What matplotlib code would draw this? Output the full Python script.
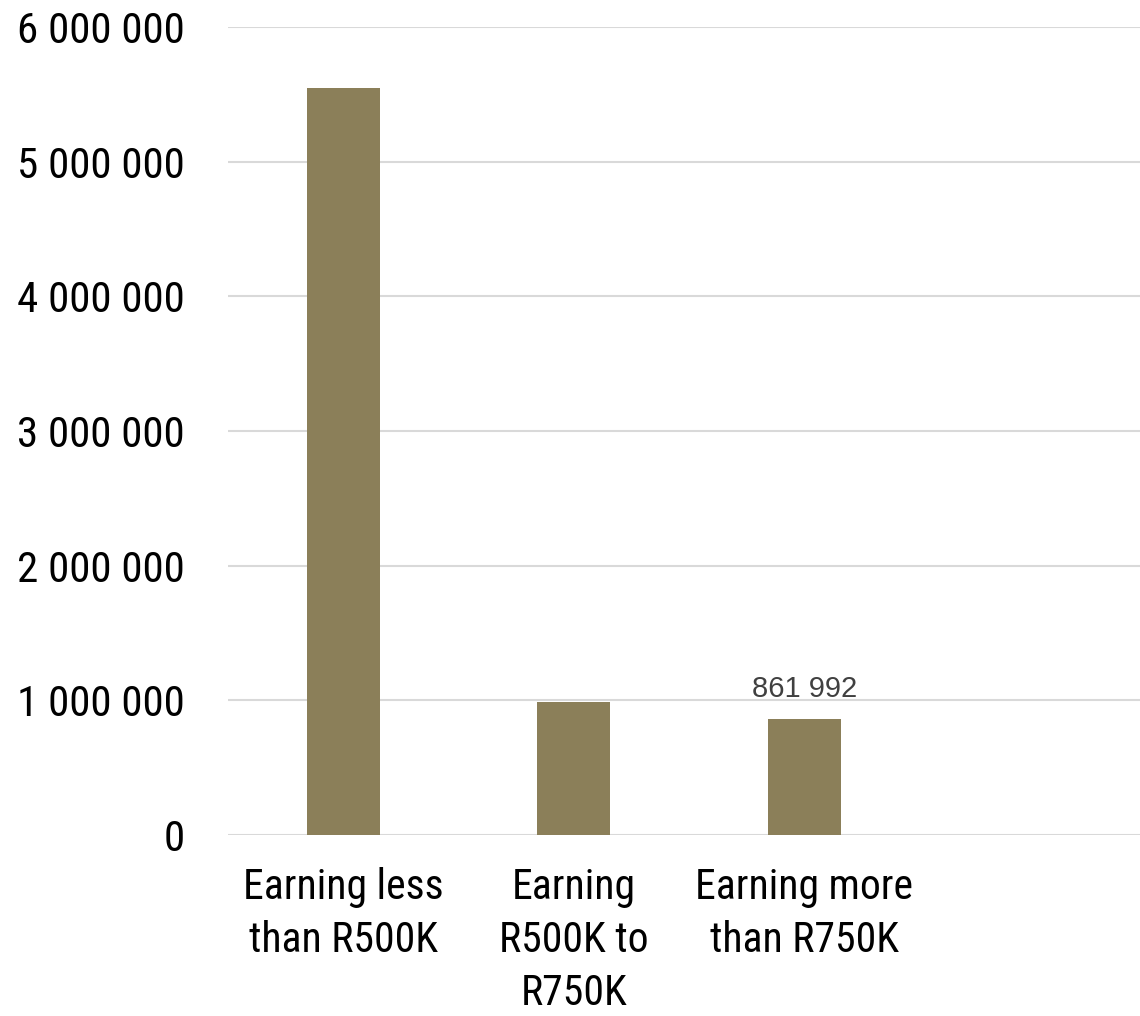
import matplotlib.pyplot as plt
from matplotlib import font_manager
from matplotlib.ticker import FuncFormatter

# données
categories = ["Earning less\nthan R500K", "Earning\nR500K to\nR750K", "Earning more\nthan R750K", ""]
valeurs = [5550000, 985000, 861992, 0]
etiquettes = {2: "861 992"}

# police étroite (style Arial Narrow) si dispo
noms = {f.name for f in font_manager.fontManager.ttflist}
police = "DejaVu Sans"
for p in ["Roboto Condensed", "Archivo Narrow", "Liberation Sans Narrow"]:
    if p in noms:
        police = p
        break

fig = plt.figure(figsize=(11.4, 10.16), dpi=100)
ax = fig.add_axes([228/1140, 1 - 835/1016, 922/1140, 808/1016])

x = list(range(len(categories)))
ax.bar(x[:3], valeurs[:3], width=0.317, color="#8b7f59", zorder=3)
for i, txt in etiquettes.items():
    ax.text(x[i], valeurs[i] + 115000, txt, ha="center", va="bottom",
            fontsize=21, color="#404040", family="Liberation Sans")

ax.set_xlim(-0.5, 3.5)
ax.set_ylim(0, 6000000)
ax.set_yticks(range(0, 6000001, 1000000))
ax.yaxis.set_major_formatter(FuncFormatter(lambda v, p: f"{int(v):,}".replace(",", " ")))
ax.set_xticks(x)
ax.set_xticklabels(categories, linespacing=1.37)
ax.grid(axis="y", color="#d9d9d9", linewidth=1.5, zorder=0)
for s in ax.spines.values():
    s.set_visible(False)
ax.tick_params(length=0)
ax.tick_params(axis="y", pad=31, labelsize=31)
ax.tick_params(axis="x", pad=23, labelsize=30)
for lab in ax.get_xticklabels() + ax.get_yticklabels():
    lab.set_family(police)

fig.savefig("out.png", dpi=100)
